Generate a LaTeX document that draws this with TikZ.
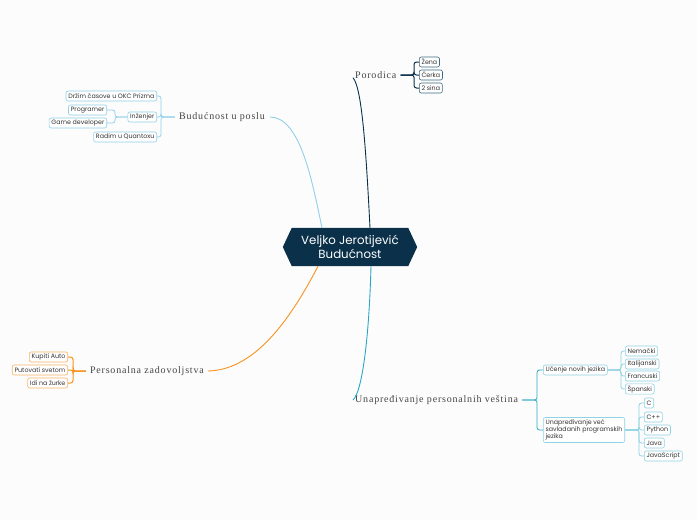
\documentclass[tikz,border=0pt]{standalone}
\usepackage{fontspec}
\setmainfont{Liberation Serif}
\newfontfamily\boxfont{Poppins}
\newfontfamily\lblfont[LetterSpace=8]{Liberation Serif}
\usetikzlibrary{calc,backgrounds}
\definecolor{navyc}{HTML}{0B3049}
\definecolor{lbluec}{HTML}{92D0EA}
\definecolor{orngc}{HTML}{F7931E}
\definecolor{orngbox}{HTML}{F9B466}
\definecolor{tealc}{HTML}{2AA7C6}
\definecolor{tboxc}{HTML}{8ED3E2}
\definecolor{lblc}{HTML}{454545}
\definecolor{porbox}{HTML}{3D6A80}
\definecolor{bgc}{HTML}{FCFCFC}
\begin{document}
\begin{tikzpicture}[x=1pt,y=-1pt,
  leaf/.style={draw, rounded corners=2pt, fill=white, line width=0.6pt,
    font=\boxfont\fontsize{6.3}{7.2}\selectfont, text=black!80,
    inner xsep=2.3pt, inner ysep=1.4pt, minimum height=10pt},
  mainlbl/.style={font=\lblfont\fontsize{10}{11}\selectfont, text=lblc, inner sep=1pt},
  branch/.style={line width=0.9pt},
  brk/.style={line width=0.8pt, rounded corners=2.5pt}]
\useasboundingbox (0,0) rectangle (697,520);

% centre
\node[font=\boxfont\fontsize{11.8}{13.5}\selectfont, text=white, align=center,
  minimum width=116pt, minimum height=38pt, inner sep=0pt] (ctr) at (350,247)
  {Veljko Jerotijević\\Budućnost};
\begin{scope}[on background layer]
\fill[bgc] (0,0) rectangle (697,520);
\fill[navyc] (ctr.north west) -- (ctr.north east) -- ($(ctr.east)+(9,0)$)
  -- (ctr.south east) -- (ctr.south west) -- ($(ctr.west)+(-9,0)$) -- cycle;
\end{scope}

% main labels
\node[mainlbl, anchor=west] (por) at (354,75) {Porodica};
\node[mainlbl, anchor=east] (bud) at (266,117) {Budućnost u poslu};
\node[mainlbl, anchor=east] (per) at (205,371) {Personalna zadovoljstva};
\node[mainlbl, anchor=west] (unp) at (354,400) {Unapređivanje personalnih veština};

% main branches
\draw[branch, navyc] ($(ctr.north)+(20,0)$) .. controls (366,150) and (362,88) .. ($(por.south west)+(-1,-2)$);
\draw[branch, lbluec] ($(ctr.north)+(-28,0)$) .. controls (312,180) and (300,117) .. ($(bud.east)+(4,0)$);
\draw[branch, orngc] ($(ctr.south)+(-32,0)$) .. controls (285,330) and (250,370) .. ($(per.east)+(3,0)$);
\draw[branch, tealc] ($(ctr.south)+(21,0)$) .. controls (369,340) and (362,392) .. ($(unp.west)+(-1,0)$);

% Porodica
\begin{scope}[every node/.append style={leaf, draw=porbox, anchor=west}]
\node (zena) at (419,62) {Žena};
\node (cerka) at (419,75) {Ćerka};
\node (sina) at (419,88) {2 sina};
\end{scope}
\foreach \c in {zena,cerka,sina}
  \draw[brk, navyc, line width=1pt] ($(por.east)+(3,0)$) -| ($(\c.west)+(-5,0)$) -- (\c.west);

% Budućnost u poslu
\begin{scope}[every node/.append style={leaf, draw=lbluec, anchor=east}]
\node (drz) at (157,96) {Držim časove u OKC Prizma};
\node (inz) at (157,117) {Inženjer};
\node (rad) at (157,137) {Radim u Quantoxu};
\node (prg) at (107,110) {Programer};
\node (gam) at (107,123) {Game developer};
\end{scope}
\foreach \c in {drz,inz,rad}
  \draw[brk, lbluec] ($(bud.west)+(-3,0)$) -| ($(\c.east)+(4,0)$) -- (\c.east);
\foreach \c in {prg,gam}
  \draw[brk, lbluec] (inz.west) -| ($(\c.east)+(8,0)$) -- (\c.east);

% Personalna zadovoljstva
\begin{scope}[every node/.append style={leaf, draw=orngbox, anchor=east}]
\node (kup) at (68,357) {Kupiti Auto};
\node (put) at (68,370) {Putovati svetom};
\node (idi) at (68,383) {Idi na žurke};
\end{scope}
\foreach \c in {kup,put,idi}
  \draw[brk, orngc, line width=1pt] ($(per.west)+(-3,0)$) -| ($(\c.east)+(5,0)$) -- (\c.east);

% Unapredjivanje personalnih vestina
\begin{scope}[every node/.append style={leaf, draw=tboxc, anchor=west}]
\node (uce) at (543,370) {Učenje novih jezika};
\node[align=left, inner ysep=2pt] (upj) at (543,430) {Unapređivanje već\\savladanih programskih\\jezika};
\node (nem) at (625,351) {Nemački};
\node (ita) at (625,364) {Italijanski};
\node (fra) at (625,376) {Francuski};
\node (spa) at (625,389) {Španski};
\node (cc) at (644,403) {C};
\node (cpp) at (644,417) {C++};
\node (pyt) at (644,430) {Python};
\node (jav) at (644,443) {Java};
\node (jsc) at (644,456) {JavaScript};
\end{scope}
\foreach \c in {uce,upj}
  \draw[brk, tealc] ($(unp.east)+(3,0)$) -| ($(\c.west)+(-6,0)$) -- (\c.west);
\foreach \c in {nem,ita,fra,spa}
  \draw[brk, tboxc] (uce.east) -| ($(\c.west)+(-4,0)$) -- (\c.west);
\foreach \c in {cc,cpp,pyt,jav,jsc}
  \draw[brk, tboxc] (upj.east) -| ($(\c.west)+(-5,0)$) -- (\c.west);
\end{tikzpicture}
\end{document}
